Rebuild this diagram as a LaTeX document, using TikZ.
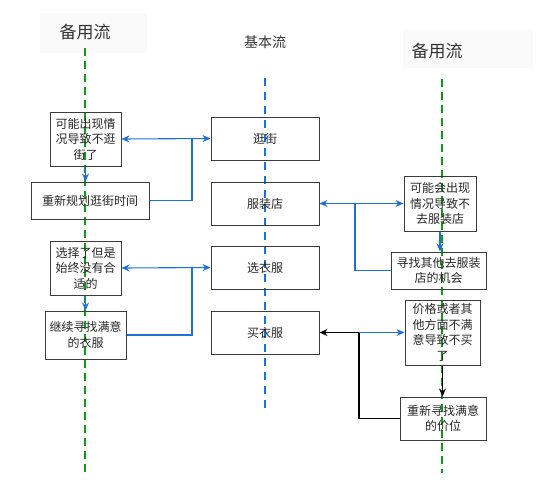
\documentclass[tikz,border=0pt]{standalone}
\usepackage{fontspec}
\newfontfamily\cjk{Noto Sans CJK SC}
\usepackage{tikz}
\usetikzlibrary{arrows.meta,positioning,calc}
\definecolor{flowblue}{RGB}{30,112,212}
\definecolor{flowgreen}{RGB}{22,150,30}
\definecolor{boxline}{RGB}{60,60,60}
\tikzset{
  ucBox/.style={draw=boxline, line width=1pt, inner sep=1pt,
    font=\cjk\fontsize{12}{15.5}\selectfont, align=center, text=black!85},
  ucMain/.style={ucBox, minimum width=108pt, minimum height=43pt},
  ucTitle/.style={font=\cjk\fontsize{17}{20}\selectfont, text=black!80},
  ucTitleBg/.style={fill=black!2, draw=none},
  %% Lifelines
  altlife/.style={dashed, dash pattern=on 8pt off 5pt, line width=2.4pt, flowgreen},
  mainlife/.style={dashed, dash pattern=on 8pt off 6pt, line width=2.4pt, flowblue},
  %% Connectors
  ucmsg/.style={-{Stealth[length=8pt,width=7pt]}, line width=1.1pt, flowblue},
  ucboth/.style={{Stealth[length=8pt,width=7pt]}-{Stealth[length=8pt,width=7pt]}, line width=1.1pt, flowblue},
  ucjoin/.style={line width=1.1pt, flowblue},
  ucblack/.style={-{Stealth[length=8pt,width=7pt]}, line width=1.1pt, black},
  ucblackln/.style={line width=1.1pt, black},
}
\begin{document}
\begin{tikzpicture}[x=1pt, y=-1pt]
\useasboundingbox (0,0) rectangle (548,485);

%% Column titles
\fill[ucTitleBg] (40,13) rectangle (147,53);
\fill[ucTitleBg] (403,30) rectangle (533,68);
\node[ucTitle] (tLeft)  at (85,32)  {备用流};
\node[ucTitle, font=\cjk\fontsize{14}{17}\selectfont] (tMain) at (265,42) {基本流};
\node[ucTitle] (tRight) at (437,51) {备用流};

%% Lifelines
\draw[altlife]  (85,48)  -- (85,472);
\draw[mainlife] (265,78) -- (265,408);
\draw[altlife]  (442,79) -- (442,473);

%% Basic flow
\node[ucMain] (mWalk)  at (265,138.5) {逛街};
\node[ucMain] (mShop)  at (265,203.5) {服装店};
\node[ucMain] (mPick)  at (265,267.5) {选衣服};
\node[ucMain] (mBuy)   at (265,332.5) {买衣服};

%% Left alternative flow
\node[ucBox, minimum width=71pt, minimum height=54pt]  (aNoWalk)  at (85.5,139) {可能出现情\\况导致不逛\\街了};
\node[ucBox, minimum width=118pt, minimum height=37pt] (aReplan)  at (90,200.5) {重新规划逛街时间};
\node[ucBox, minimum width=71pt, minimum height=54pt]  (aNoFit)   at (85.5,268) {选择了但是\\始终没有合\\适的};
\node[ucBox, minimum width=81pt, minimum height=48pt]  (aKeepLook) at (85.5,335) {继续寻找满意\\的衣服};

%% Right alternative flow
\node[ucBox, minimum width=72pt, minimum height=55pt]  (bNoShop)  at (440,203.5) {可能会出现\\情况导致不\\去服装店};
\node[ucBox, minimum width=95pt, minimum height=37pt]  (bOther)   at (438.5,270.5) {寻找其他去服装\\店的机会};
\node[ucBox, minimum width=75pt, minimum height=65pt]  (bNoBuy)   at (442.5,332.5) {价格或者其\\他方面不满\\意导致不买\\了};
\node[ucBox, minimum width=86pt, minimum height=43pt]  (bPrice)   at (443,418.5) {重新寻找满意\\的价位};

%% Junctions
\coordinate (jWalk) at (192,138.5);
\coordinate (jPick) at (192,267.5);
\coordinate (jShop) at (355,203.5);
\coordinate (jBuy)  at (359,332.5);

%% Connectors
\draw[ucboth] (aNoWalk.east) -- (mWalk.west);
\draw[ucjoin] (aReplan.east) -| (jWalk);
\draw[ucmsg]  (aNoWalk.south) -- (aReplan.north -| aNoWalk.south);

\draw[ucboth] (aNoFit.east) -- (mPick.west);
\draw[ucjoin] (aKeepLook.east) -| (jPick);
\draw[ucmsg]  (aNoFit.south) -- (aKeepLook.north);

\draw[ucboth] (mShop.east) -- (bNoShop.west);
\draw[ucjoin] (bOther.west) -| (jShop);
\draw[ucmsg]  (bNoShop.south) -- (bOther.north -| bNoShop.south);

\draw[ucblack] (jBuy) -- (mBuy.east);
\draw[ucmsg]   (jBuy) -- (bNoBuy.west);
\draw[ucblackln] (bPrice.west) -| (jBuy);
\draw[ucblack] (bNoBuy.south) -- (bPrice.north -| bNoBuy.south);

\end{tikzpicture}
\end{document}
